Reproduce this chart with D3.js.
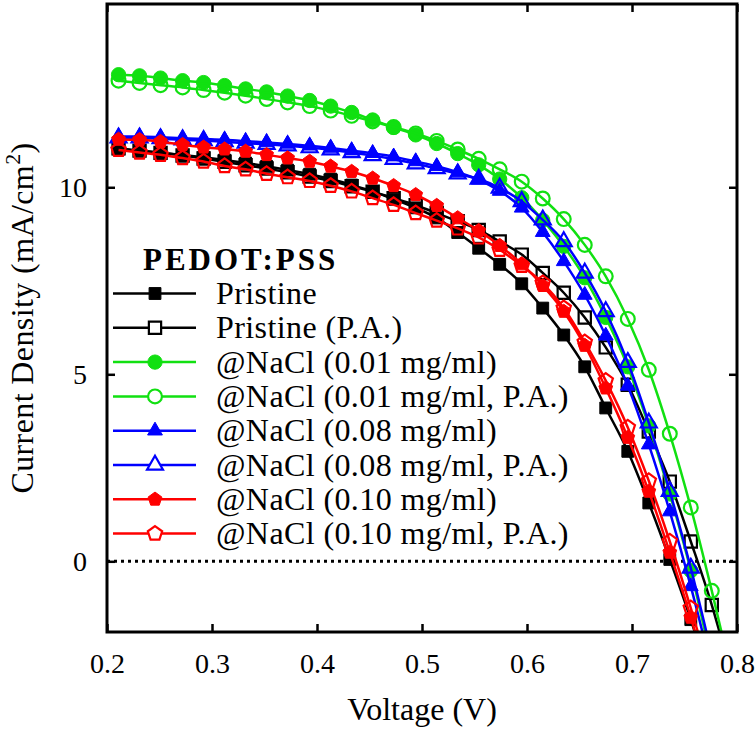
<!DOCTYPE html>
<html>
<head>
<meta charset="utf-8">
<script src="https://cdn.jsdelivr.net/npm/d3@7"></script>
<style>
  body { margin: 0; background: #fff; }
  text { font-family: "Liberation Serif", "DejaVu Serif", serif; fill: #000; }
</style>
</head>
<body>
<svg width="756" height="729"></svg>
<script>
// voltage (V)
const voltage = [0.211, 0.231, 0.251, 0.272, 0.292, 0.312, 0.332, 0.352, 0.372, 0.393,
                 0.413, 0.433, 0.453, 0.473, 0.494, 0.514, 0.534, 0.554, 0.574, 0.595,
                 0.615, 0.635, 0.655, 0.675, 0.696, 0.716, 0.736, 0.756, 0.776, 0.797];

// current density (mA/cm2)
const pristine    = [11.02, 10.97, 10.92, 10.86, 10.80, 10.73, 10.65, 10.56, 10.46, 10.35,
                     10.22, 10.06, 9.89, 9.68, 9.45, 9.18, 8.79, 8.37, 7.94, 7.42,
                     6.77, 6.05, 5.20, 4.10, 2.94, 1.56, 0.05, -1.56, -3.4];
const pristinePA  = [11.04, 10.98, 10.92, 10.85, 10.77, 10.68, 10.59, 10.50, 10.40, 10.29,
                     10.17, 10.03, 9.88, 9.71, 9.52, 9.31, 9.09, 8.86, 8.55, 8.20,
                     7.71, 7.18, 6.52, 5.72, 4.72, 3.47, 2.13, 0.53, -1.17, -3.3];
const nacl001     = [13.01, 12.98, 12.92, 12.85, 12.80, 12.72, 12.63, 12.55, 12.44, 12.32,
                     12.17, 12.00, 11.80, 11.60, 11.40, 11.17, 10.90, 10.60, 10.22, 9.72,
                     9.12, 8.42, 7.58, 6.52, 5.20, 3.62, 1.80, -0.25, -2.7];
const nacl001PA   = [12.85, 12.79, 12.73, 12.67, 12.60, 12.53, 12.45, 12.36, 12.27, 12.17,
                     12.05, 11.91, 11.76, 11.61, 11.44, 11.24, 11.01, 10.76, 10.48, 10.15,
                     9.70, 9.15, 8.46, 7.62, 6.48, 5.12, 3.41, 1.44, -0.79, -3.3];
const nacl008     = [11.36, 11.36, 11.34, 11.31, 11.29, 11.27, 11.23, 11.20, 11.16, 11.11,
                     11.05, 10.98, 10.91, 10.82, 10.69, 10.56, 10.40, 10.20, 9.90, 9.45,
                     8.80, 8.02, 7.12, 6.03, 4.69, 3.12, 1.33, -0.67, -2.9];
const nacl008PA   = [11.32, 11.32, 11.30, 11.27, 11.25, 11.22, 11.18, 11.15, 11.11, 11.06,
                     11.00, 10.93, 10.85, 10.75, 10.63, 10.50, 10.36, 10.22, 9.98, 9.62,
                     9.13, 8.55, 7.71, 6.68, 5.32, 3.70, 1.87, -0.18, -2.5];
const nacl010     = [11.28, 11.27, 11.22, 11.14, 11.07, 11.02, 10.96, 10.87, 10.78, 10.69,
                     10.56, 10.42, 10.24, 10.04, 9.80, 9.51, 9.18, 8.84, 8.44, 7.95,
                     7.37, 6.68, 5.77, 4.63, 3.31, 1.87, 0.24, -1.50, -3.5];
const nacl010PA   = [11.00, 10.93, 10.87, 10.78, 10.69, 10.57, 10.48, 10.36, 10.27, 10.17,
                     10.04, 9.89, 9.71, 9.53, 9.31, 9.11, 8.90, 8.66, 8.33, 7.90,
                     7.44, 6.77, 5.86, 4.83, 3.58, 2.15, 0.53, -1.25, -3.2];

const seriesNames = ['Pristine', 'Pristine (P.A.)',
                     '@NaCl (0.01 mg/ml)', '@NaCl (0.01 mg/ml, P.A.)',
                     '@NaCl (0.08 mg/ml)', '@NaCl (0.08 mg/ml, P.A.)',
                     '@NaCl (0.10 mg/ml)', '@NaCl (0.10 mg/ml, P.A.)'];
const seriesValues = [pristine, pristinePA, nacl001, nacl001PA, nacl008, nacl008PA, nacl010, nacl010PA];
const legendTitle = 'PEDOT:PSS';

const xTicks = [0.2, 0.3, 0.4, 0.5, 0.6, 0.7, 0.8];
const yTicks = [0, 5, 10];

// pentagon symbol (not in d3)
const symbolPentagon = {
    draw(context, size) {
        const r = Math.sqrt(size / 2.378);
        for (let i = 0; i < 5; i++) {
            const a = -Math.PI / 2 + i * 2 * Math.PI / 5;
            const px = r * Math.cos(a), py = r * Math.sin(a);
            if (i === 0) context.moveTo(px, py); else context.lineTo(px, py);
        }
        context.closePath();
    }
};

// styles per series
const styles = [
    {color: '#000000', type: d3.symbolSquare,   size: 140, filled: true},
    {color: '#000000', type: d3.symbolSquare,   size: 150, filled: false},
    {color: '#11e011', type: d3.symbolCircle,   size: 160, filled: true},
    {color: '#11e011', type: d3.symbolCircle,   size: 150, filled: false},
    {color: '#0000ff', type: d3.symbolTriangle, size: 95,  filled: true},
    {color: '#0000ff', type: d3.symbolTriangle, size: 110, filled: false},
    {color: '#ff0000', type: symbolPentagon,    size: 125, filled: true},
    {color: '#ff0000', type: symbolPentagon,    size: 135, filled: false}
];

const svg = d3.select('svg');
const width = +svg.attr('width');
const height = +svg.attr('height');

const render = () => {
    const margin = {top: 4, right: 19, bottom: 97, left: 107};
    const innerWidth = width - margin.left - margin.right;
    const innerHeight = height - margin.top - margin.bottom;

    const xscale = d3.scaleLinear().domain([0.2, 0.8]).range([0, innerWidth]);
    const yscale = d3.scaleLinear().domain([-1.89, 14.9]).range([innerHeight, 0]);

    const g = svg.append('g')
        .attr('transform', `translate(${margin.left}, ${margin.top})`);

    g.append('clipPath').attr('id', 'clip')
        .append('rect').attr('width', innerWidth).attr('height', innerHeight);

    // axes, ticks inward
    const styleAxis = sel => {
        sel.attr('font-family', null);
        sel.select('.domain').remove();
        sel.selectAll('.tick line').attr('stroke-width', 2.5);
        sel.selectAll('.tick text').attr('font-size', 28);
    };
    g.append('g').attr('transform', `translate(0, ${innerHeight})`)
        .call(d3.axisBottom(xscale).tickValues(xTicks).tickSize(-8).tickPadding(21)
            .tickFormat(d3.format('.1f')))
        .call(styleAxis);
    g.append('g')
        .call(d3.axisTop(xscale).tickValues(xTicks).tickSize(-8).tickFormat(''))
        .call(styleAxis);
    g.append('g')
        .call(d3.axisLeft(yscale).tickValues(yTicks).tickSize(-8).tickPadding(20))
        .call(styleAxis);
    g.append('g').attr('transform', `translate(${innerWidth}, 0)`)
        .call(d3.axisRight(yscale).tickValues(yTicks).tickSize(-8).tickFormat(''))
        .call(styleAxis);

    // dotted zero line
    g.append('line')
        .attr('x1', 0).attr('x2', innerWidth)
        .attr('y1', yscale(0)).attr('y2', yscale(0))
        .attr('stroke', '#000').attr('stroke-width', 3)
        .attr('stroke-dasharray', '3,4');

    const line = d3.line()
        .x(d => xscale(d[0]))
        .y(d => yscale(d[1]))
        .curve(d3.curveMonotoneX);

    const plot = g.append('g').attr('clip-path', 'url(#clip)');

    seriesValues.forEach((vals, i) => {
        const st = styles[i];
        const pts = vals.map((v, k) => [voltage[k], v]);
        plot.append('path')
            .attr('d', line(pts))
            .attr('fill', 'none')
            .attr('stroke', st.color)
            .attr('stroke-width', 2.5);
        plot.selectAll(null)
            .data(pts.filter(d => d[1] >= yscale.domain()[0]))
            .enter()
            .append('path')
                .attr('transform', d => `translate(${xscale(d[0])}, ${yscale(d[1])})`)
                .attr('d', d3.symbol().type(st.type).size(st.size))
                .attr('fill', st.filled ? st.color : 'none')
                .attr('stroke', st.color)
                .attr('stroke-width', st.filled ? 1 : 2.2);
    });

    // frame
    g.append('rect')
        .attr('width', innerWidth).attr('height', innerHeight)
        .attr('fill', 'none').attr('stroke', '#000').attr('stroke-width', 3);

    // axis labels
    svg.append('text')
        .attr('x', margin.left + xscale(0.5)).attr('y', 720)
        .attr('text-anchor', 'middle').attr('font-size', 32)
        .text('Voltage (V)');

    const ylab = svg.append('text')
        .attr('transform', `translate(33, ${margin.top + innerHeight / 2}) rotate(-90)`)
        .attr('text-anchor', 'middle').attr('font-size', 32)
        .attr('letter-spacing', 0.4);
    ylab.append('tspan').text('Current Density (mA/cm');
    ylab.append('tspan').attr('font-size', 22).attr('dy', -13).text('2');
    ylab.append('tspan').attr('dy', 13).text(')');

    // legend
    const legend = svg.append('g');
    legend.append('text')
        .attr('x', 143).attr('y', 270)
        .attr('font-size', 31).attr('font-weight', 'bold')
        .attr('letter-spacing', 3)
        .text(legendTitle);

    const rows = legend.selectAll('g.row').data(seriesNames).enter()
        .append('g').attr('class', 'row')
        .attr('transform', (d, i) => `translate(0, ${293.5 + i * 34.3})`);
    rows.append('line')
        .attr('x1', 113).attr('x2', 196)
        .attr('stroke', (d, i) => styles[i].color).attr('stroke-width', 2.5);
    rows.append('path')
        .attr('transform', 'translate(155, 0)')
        .attr('d', (d, i) => d3.symbol().type(styles[i].type).size(styles[i].size)())
        .attr('fill', (d, i) => styles[i].filled ? styles[i].color : '#fff')
        .attr('stroke', (d, i) => styles[i].color)
        .attr('stroke-width', (d, i) => styles[i].filled ? 1 : 2.2);
    rows.append('text')
        .attr('x', 216).attr('dy', '0.33em')
        .attr('font-size', 32)
        .attr('letter-spacing', 0.4)
        .text(d => d);
};

render();
</script>
</body>
</html>
